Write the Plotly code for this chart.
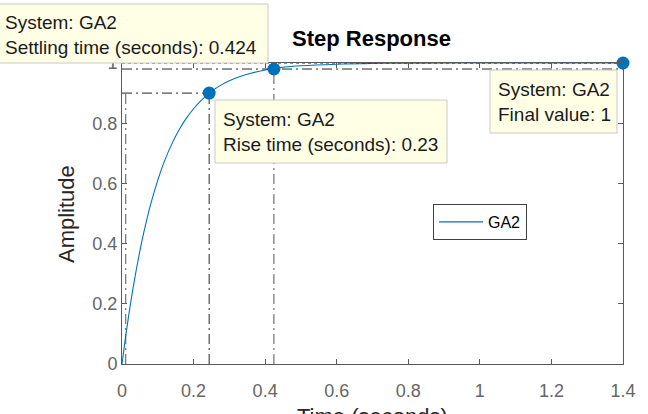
import plotly.graph_objects as go

# ---- data ----
t = [0, 0.01, 0.02, 0.03, 0.04, 0.05, 0.06, 0.08, 0.10, 0.12, 0.14, 0.16, 0.18,
     0.20, 0.22, 0.24, 0.26, 0.28, 0.30, 0.33, 0.36, 0.40, 0.45, 0.50, 0.60,
     0.70, 0.80, 1.0, 1.2, 1.4]
amp = [0, 0.090, 0.172, 0.246, 0.314, 0.376, 0.432, 0.530, 0.611, 0.678, 0.733,
       0.779, 0.817, 0.848, 0.874, 0.896, 0.914, 0.929, 0.941, 0.955, 0.966,
       0.977, 0.986, 0.991, 0.996, 0.9986, 0.9995, 0.9999, 1.0, 1.0]

t10 = 0.0105
t90 = 0.2436
rise_level = 0.9
settle_t = 0.4245
settle_level = 0.98
final_t = 1.4
final_value = 1.0

point_t = [t90, settle_t, final_t]
point_y = [rise_level, settle_level, final_value]

x_ticks = [0, 0.2, 0.4, 0.6, 0.8, 1, 1.2, 1.4]
y_ticks = [0, 0.2, 0.4, 0.6, 0.8, 1]

tip_texts = [
    "System: GA2<br>Settling time (seconds): 0.424",
    "System: GA2<br>Rise time (seconds): 0.23",
    "System: GA2<br>Final value: 1",
]

# ---- layout geometry (pixels) ----
W, H = 648, 414
L, R, T, B = 122, 623, 63, 364
PW, PH = R - L, B - T


def px(x):
    return (x - L) / PW


def py(y):
    return (B - y) / PH


BLUE = "#0072BD"
DARK = "#262626"
GRAY = "#666666"
FONT = "Liberation Sans, Arial"

fig = go.Figure()

fig.add_trace(go.Scatter(x=t, y=amp, mode="lines", name="GA2",
                         line=dict(color=BLUE, width=1.1, shape="spline"),
                         showlegend=True))

dd = "10px,4px,2px,4px"
# characteristic lines
fig.add_trace(go.Scatter(x=[0, t90], y=[rise_level, rise_level], mode="lines",
                         line=dict(color=DARK, width=1, dash=dd), showlegend=False))
fig.add_trace(go.Scatter(x=[t10, t10], y=[0, rise_level], mode="lines",
                         line=dict(color="#555", width=1, dash=dd), showlegend=False))
fig.add_trace(go.Scatter(x=[t90, t90], y=[0, rise_level], mode="lines",
                         line=dict(color=DARK, width=1, dash=dd), showlegend=False))
fig.add_trace(go.Scatter(x=[0, final_t], y=[settle_level, settle_level], mode="lines",
                         line=dict(color=DARK, width=1, dash=dd), showlegend=False))
fig.add_trace(go.Scatter(x=[settle_t, settle_t], y=[0, settle_level], mode="lines",
                         line=dict(color="#555", width=1, dash=dd), showlegend=False))
fig.add_trace(go.Scatter(x=[0, final_t], y=[final_value, final_value], mode="lines",
                         line=dict(color=DARK, width=1, dash="dot"), showlegend=False,
                         cliponaxis=False))

fig.add_trace(go.Scatter(x=point_t, y=point_y, mode="markers",
                         marker=dict(color=BLUE, size=13), showlegend=False,
                         cliponaxis=False))

# data tip boxes
boxes = [(-2, 4, 268, 63), (215, 100, 447, 163), (490, 70, 617, 133)]
for (x0, y0, x1, y1) in boxes:
    fig.add_shape(type="rect", xref="paper", yref="paper",
                  x0=px(x0), x1=px(x1), y0=py(y1), y1=py(y0),
                  fillcolor="#FFFFE6", line=dict(color="#C8C8C8", width=1),
                  layer="above")

text_pos = [(3, 10), (221, 107), (496, 77)]
for txt, (x, y) in zip(tip_texts, text_pos):
    fig.add_annotation(text=txt, xref="paper", yref="paper", x=px(x), y=py(y),
                       xanchor="left", yanchor="top", align="left", showarrow=False,
                       font=dict(family=FONT, size=19, color="#1a1a1a"))

# axis titles as annotations for precise placement
fig.add_annotation(text="Amplitude", xref="paper", yref="paper",
                   x=px(66), y=py(214), textangle=-90, showarrow=False,
                   xanchor="center", yanchor="middle",
                   font=dict(family=FONT, size=22, color=DARK))
fig.add_annotation(text="Time (seconds)", xref="paper", yref="paper",
                   x=px(372), y=py(402), showarrow=False,
                   xanchor="center", yanchor="top",
                   font=dict(family=FONT, size=22, color=DARK))
fig.add_annotation(text="<b>Step Response</b>", xref="paper", yref="paper",
                   x=px(371), y=py(39), showarrow=False,
                   xanchor="center", yanchor="middle",
                   font=dict(family=FONT, size=22, color="#000"))

axis_common = dict(showgrid=False, zeroline=False, showline=True, linecolor="#5a5a5a",
                   linewidth=1, mirror="ticks", ticks="inside", ticklen=5,
                   tickcolor="#5a5a5a", tickwidth=1,
                   tickfont=dict(family=FONT, size=18, color=GRAY))

fig.update_xaxes(range=[0, 1.4], tickvals=x_ticks, ticktext=[f"{v:g}" for v in x_ticks],
                 ticklabelstandoff=10, **axis_common)
fig.update_yaxes(range=[0, 1], tickvals=y_ticks, ticktext=[f"{v:g}" for v in y_ticks],
                 **axis_common)

fig.update_layout(
    width=W, height=H,
    margin=dict(l=L, r=W - R, t=T, b=H - B),
    paper_bgcolor="white", plot_bgcolor="white",
    legend=dict(x=px(433), y=py(204), xanchor="left", yanchor="top",
                bgcolor="white", bordercolor="#404040", borderwidth=1,
                itemwidth=44,
                font=dict(family=FONT, size=16, color="#000")),
)

fig.write_html("out.html")
